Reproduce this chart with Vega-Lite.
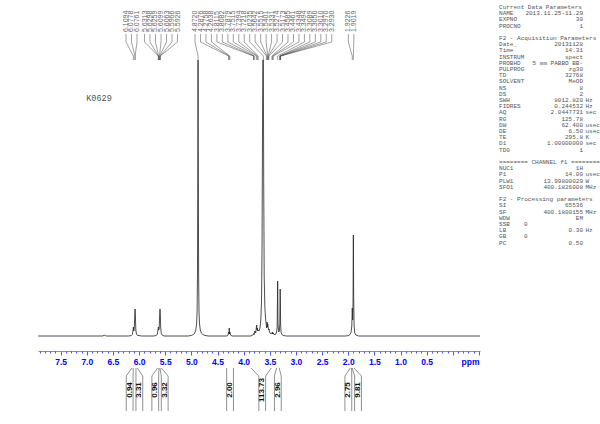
{
  "$schema": "https://vega.github.io/schema/vega-lite/v6.json",
  "width": 442,
  "height": 351,
  "autosize": {"type": "none"},
  "padding": {"left": 38, "top": 0, "right": 120, "bottom": 73},
  "background": "white",
  "config": {
    "view": {"stroke": null},
    "axisX": {"grid": false, "title": null, "labelOverlap": false, "labelBound": false, "labelFlush": false}
  },
  "datasets": {
    "spectrum": [
      {"ppm": 7.93, "intensity": 0}, {"ppm": 6.70, "intensity": 0}, {"ppm": 6.66, "intensity": 0.8}, {"ppm": 6.63, "intensity": 0},
      {"ppm": 6.20, "intensity": 0}, {"ppm": 6.15, "intensity": 0.4}, {"ppm": 6.13, "intensity": 1.5}, {"ppm": 6.12, "intensity": 4},
      {"ppm": 6.109, "intensity": 9}, {"ppm": 6.100, "intensity": 5}, {"ppm": 6.090, "intensity": 9}, {"ppm": 6.083, "intensity": 20},
      {"ppm": 6.077, "intensity": 27}, {"ppm": 6.071, "intensity": 20}, {"ppm": 6.062, "intensity": 6}, {"ppm": 6.05, "intensity": 2},
      {"ppm": 6.03, "intensity": 0.6}, {"ppm": 5.95, "intensity": 0},
      {"ppm": 5.72, "intensity": 0}, {"ppm": 5.67, "intensity": 0.6}, {"ppm": 5.65, "intensity": 2}, {"ppm": 5.638, "intensity": 6},
      {"ppm": 5.631, "intensity": 9}, {"ppm": 5.624, "intensity": 6}, {"ppm": 5.615, "intensity": 8}, {"ppm": 5.607, "intensity": 20},
      {"ppm": 5.600, "intensity": 27}, {"ppm": 5.594, "intensity": 22}, {"ppm": 5.586, "intensity": 8}, {"ppm": 5.575, "intensity": 2.5},
      {"ppm": 5.56, "intensity": 1}, {"ppm": 5.52, "intensity": 0},
      {"ppm": 5.06, "intensity": 0}, {"ppm": 5.0, "intensity": 0.6}, {"ppm": 4.96, "intensity": 1.5}, {"ppm": 4.935, "intensity": 3},
      {"ppm": 4.915, "intensity": 6}, {"ppm": 4.9, "intensity": 12}, {"ppm": 4.89, "intensity": 25}, {"ppm": 4.883, "intensity": 60},
      {"ppm": 4.877, "intensity": 160}, {"ppm": 4.872, "intensity": 276}, {"ppm": 4.867, "intensity": 160}, {"ppm": 4.861, "intensity": 60},
      {"ppm": 4.854, "intensity": 25}, {"ppm": 4.844, "intensity": 12}, {"ppm": 4.829, "intensity": 6}, {"ppm": 4.809, "intensity": 3},
      {"ppm": 4.78, "intensity": 1.5}, {"ppm": 4.74, "intensity": 0.6}, {"ppm": 4.68, "intensity": 0},
      {"ppm": 4.33, "intensity": 0}, {"ppm": 4.30, "intensity": 0.8}, {"ppm": 4.2876, "intensity": 4}, {"ppm": 4.281, "intensity": 2},
      {"ppm": 4.2758, "intensity": 8}, {"ppm": 4.269, "intensity": 2}, {"ppm": 4.2638, "intensity": 4}, {"ppm": 4.25, "intensity": 0.8},
      {"ppm": 4.22, "intensity": 0},
      {"ppm": 3.87, "intensity": 0}, {"ppm": 3.83, "intensity": 0.6}, {"ppm": 3.8115, "intensity": 2}, {"ppm": 3.810, "intensity": 1.8},
      {"ppm": 3.8082, "intensity": 2.5}, {"ppm": 3.798, "intensity": 1.5}, {"ppm": 3.7879, "intensity": 5}, {"ppm": 3.770, "intensity": 3},
      {"ppm": 3.7515, "intensity": 11}, {"ppm": 3.745, "intensity": 6}, {"ppm": 3.7394, "intensity": 8}, {"ppm": 3.731, "intensity": 5},
      {"ppm": 3.7218, "intensity": 6}, {"ppm": 3.705, "intensity": 5}, {"ppm": 3.688, "intensity": 8}, {"ppm": 3.672, "intensity": 16},
      {"ppm": 3.658, "intensity": 35}, {"ppm": 3.648, "intensity": 90}, {"ppm": 3.640, "intensity": 200}, {"ppm": 3.633, "intensity": 276},
      {"ppm": 3.6235, "intensity": 276}, {"ppm": 3.616, "intensity": 150}, {"ppm": 3.607, "intensity": 60}, {"ppm": 3.595, "intensity": 30},
      {"ppm": 3.582, "intensity": 18}, {"ppm": 3.5642, "intensity": 10}, {"ppm": 3.558, "intensity": 8}, {"ppm": 3.5515, "intensity": 14},
      {"ppm": 3.546, "intensity": 9}, {"ppm": 3.5401, "intensity": 12}, {"ppm": 3.5331, "intensity": 9}, {"ppm": 3.5274, "intensity": 8},
      {"ppm": 3.522, "intensity": 6}, {"ppm": 3.5173, "intensity": 7}, {"ppm": 3.505, "intensity": 4}, {"ppm": 3.49, "intensity": 2.5},
      {"ppm": 3.4585, "intensity": 3}, {"ppm": 3.452, "intensity": 2}, {"ppm": 3.4461, "intensity": 4}, {"ppm": 3.440, "intensity": 2},
      {"ppm": 3.4348, "intensity": 3}, {"ppm": 3.42, "intensity": 1.5}, {"ppm": 3.395, "intensity": 1.5}, {"ppm": 3.375, "intensity": 3},
      {"ppm": 3.36, "intensity": 8}, {"ppm": 3.3494, "intensity": 55}, {"ppm": 3.343, "intensity": 12}, {"ppm": 3.33, "intensity": 4},
      {"ppm": 3.318, "intensity": 5}, {"ppm": 3.3089, "intensity": 12}, {"ppm": 3.3050, "intensity": 32}, {"ppm": 3.3010, "intensity": 47},
      {"ppm": 3.2970, "intensity": 32}, {"ppm": 3.2930, "intensity": 12}, {"ppm": 3.285, "intensity": 4}, {"ppm": 3.27, "intensity": 1.5},
      {"ppm": 3.24, "intensity": 0.5}, {"ppm": 3.18, "intensity": 0},
      {"ppm": 2.05, "intensity": 0}, {"ppm": 1.99, "intensity": 0.5}, {"ppm": 1.965, "intensity": 1.5}, {"ppm": 1.945, "intensity": 4},
      {"ppm": 1.932, "intensity": 10}, {"ppm": 1.9226, "intensity": 28}, {"ppm": 1.915, "intensity": 16}, {"ppm": 1.908, "intensity": 35},
      {"ppm": 1.9019, "intensity": 101}, {"ppm": 1.896, "intensity": 40}, {"ppm": 1.888, "intensity": 10}, {"ppm": 1.875, "intensity": 3},
      {"ppm": 1.855, "intensity": 1}, {"ppm": 1.80, "intensity": 0}, {"ppm": -0.52, "intensity": 0}
    ],
    "peaks": [
      {"ppm": 6.1094, "lab": 6.250}, {"ppm": 6.0778, "lab": 6.145}, {"ppm": 6.0761, "lab": 6.039},
      {"ppm": 5.6313, "lab": 5.896}, {"ppm": 5.6298, "lab": 5.791}, {"ppm": 5.6259, "lab": 5.686},
      {"ppm": 5.6099, "lab": 5.580}, {"ppm": 5.6063, "lab": 5.475}, {"ppm": 5.5966, "lab": 5.370},
      {"ppm": 5.5926, "lab": 5.265},
      {"ppm": 4.8720, "lab": 4.930}, {"ppm": 4.2876, "lab": 4.825}, {"ppm": 4.2758, "lab": 4.721},
      {"ppm": 4.2638, "lab": 4.616}, {"ppm": 3.8115, "lab": 4.512}, {"ppm": 3.8082, "lab": 4.407},
      {"ppm": 3.7879, "lab": 4.302}, {"ppm": 3.7515, "lab": 4.198}, {"ppm": 3.7394, "lab": 4.093},
      {"ppm": 3.7218, "lab": 3.989}, {"ppm": 3.6235, "lab": 3.884}, {"ppm": 3.5642, "lab": 3.780},
      {"ppm": 3.5515, "lab": 3.675}, {"ppm": 3.5401, "lab": 3.570}, {"ppm": 3.5331, "lab": 3.466},
      {"ppm": 3.5274, "lab": 3.361}, {"ppm": 3.5173, "lab": 3.257}, {"ppm": 3.4585, "lab": 3.152},
      {"ppm": 3.4461, "lab": 3.047}, {"ppm": 3.4348, "lab": 2.943}, {"ppm": 3.3494, "lab": 2.838},
      {"ppm": 3.3089, "lab": 2.734}, {"ppm": 3.3050, "lab": 2.629}, {"ppm": 3.3010, "lab": 2.525},
      {"ppm": 3.2970, "lab": 2.420}, {"ppm": 3.2930, "lab": 2.315},
      {"ppm": 1.9226, "lab": 1.998}, {"ppm": 1.9019, "lab": 1.893}
    ],
    "integrals": [
      {"val": "0.94", "pos": 6.18, "hi": 6.135, "lo": 6.11},
      {"val": "3.31", "pos": 5.995, "hi": 6.06, "lo": 6.035},
      {"val": "0.96", "pos": 5.69, "hi": 5.645, "lo": 5.62},
      {"val": "3.32", "pos": 5.51, "hi": 5.60, "lo": 5.575},
      {"val": "2.00", "pos": 4.26, "hi": 4.325, "lo": 4.195},
      {"val": "113.73", "pos": 3.645, "hi": 3.86, "lo": 3.47},
      {"val": "2.96", "pos": 3.346, "hi": 3.37, "lo": 3.32},
      {"val": "2.75", "pos": 1.998, "hi": 1.96, "lo": 1.935},
      {"val": "9.81", "pos": 1.813, "hi": 1.925, "lo": 1.89}
    ],
    "params": [
      {"row": 0, "name": "Current Data Parameters", "mid": "", "value": "", "unit": ""},
      {"row": 1, "name": "NAME", "mid": "", "value": "2013.11.25-11.29", "unit": ""},
      {"row": 2, "name": "EXPNO", "mid": "", "value": "30", "unit": ""},
      {"row": 3, "name": "PROCNO", "mid": "", "value": "1", "unit": ""},
      {"row": 5, "name": "F2 - Acquisition Parameters", "mid": "", "value": "", "unit": ""},
      {"row": 6, "name": "Date_", "mid": "", "value": "20131128", "unit": ""},
      {"row": 7, "name": "Time", "mid": "", "value": "14.31", "unit": ""},
      {"row": 8, "name": "INSTRUM", "mid": "", "value": "spect", "unit": ""},
      {"row": 9, "name": "PROBHD", "mid": "", "value": "5 mm PABBO BB-", "unit": ""},
      {"row": 10, "name": "PULPROG", "mid": "", "value": "zg30", "unit": ""},
      {"row": 11, "name": "TD", "mid": "", "value": "32768", "unit": ""},
      {"row": 12, "name": "SOLVENT", "mid": "", "value": "MeOD", "unit": ""},
      {"row": 13, "name": "NS", "mid": "", "value": "8", "unit": ""},
      {"row": 14, "name": "DS", "mid": "", "value": "2", "unit": ""},
      {"row": 15, "name": "SWH", "mid": "", "value": "8012.820", "unit": "Hz"},
      {"row": 16, "name": "FIDRES", "mid": "", "value": "0.244532", "unit": "Hz"},
      {"row": 17, "name": "AQ", "mid": "", "value": "2.0447731", "unit": "sec"},
      {"row": 18, "name": "RG", "mid": "", "value": "125.78", "unit": ""},
      {"row": 19, "name": "DW", "mid": "", "value": "62.400", "unit": "usec"},
      {"row": 20, "name": "DE", "mid": "", "value": "6.50", "unit": "usec"},
      {"row": 21, "name": "TE", "mid": "", "value": "295.8", "unit": "K"},
      {"row": 22, "name": "D1", "mid": "", "value": "1.00000000", "unit": "sec"},
      {"row": 23, "name": "TD0", "mid": "", "value": "1", "unit": ""},
      {"row": 25, "name": "======== CHANNEL f1 ========", "mid": "", "value": "", "unit": ""},
      {"row": 26, "name": "NUC1", "mid": "", "value": "1H", "unit": ""},
      {"row": 27, "name": "P1", "mid": "", "value": "14.00", "unit": "usec"},
      {"row": 28, "name": "PLW1", "mid": "", "value": "13.99800029", "unit": "W"},
      {"row": 29, "name": "SFO1", "mid": "", "value": "400.1826008", "unit": "MHz"},
      {"row": 31, "name": "F2 - Processing parameters", "mid": "", "value": "", "unit": ""},
      {"row": 32, "name": "SI", "mid": "", "value": "65536", "unit": ""},
      {"row": 33, "name": "SF", "mid": "", "value": "400.1800155", "unit": "MHz"},
      {"row": 34, "name": "WDW", "mid": "", "value": "EM", "unit": ""},
      {"row": 35, "name": "SSB", "mid": "0", "value": "", "unit": ""},
      {"row": 36, "name": "LB", "mid": "", "value": "0.30", "unit": "Hz"},
      {"row": 37, "name": "GB", "mid": "0", "value": "", "unit": ""},
      {"row": 38, "name": "PC", "mid": "", "value": "0.50", "unit": ""}
    ],
    "sample": [{"label": "K0629"}]
  },
  "layer": [
    {
      "layer": [
        {
          "data": {"name": "spectrum"},
          "mark": {"type": "line", "stroke": "#222222", "strokeWidth": 0.8, "interpolate": "linear"},
          "encoding": {
            "x": {
              "field": "ppm", "type": "quantitative", "title": null,
              "scale": {"domain": [-0.52, 7.933], "reverse": true, "nice": false, "zero": false},
              "axis": {
                "orient": "bottom",
                "title": null,
                "grid": false,
                "values": [7.5, 7.0, 6.5, 6.0, 5.5, 5.0, 4.5, 4.0, 3.5, 3.0, 2.5, 2.0, 1.5, 1.0, 0.5, 0, -0.5],
                "labelExpr": "datum.value < -0.45 ? 'ppm' : (datum.value < 0.25 ? '' : format(datum.value, '.1f'))",
                "labelOverlap": false,
                "labelBound": false,
                "labelFlush": false,
                "labelAlign": {"condition": {"test": "datum.value < -0.45", "value": "right"}, "value": "center"},
                "tickSize": 4,
                "tickColor": "#2a2aff",
                "tickWidth": 0.8,
                "domainColor": "#6a6ad0",
                "domainWidth": 0.8,
                "labelColor": "#0000ff",
                "labelFont": "Liberation Sans",
                "labelFontWeight": "bold",
                "labelFontSize": 8.5,
                "labelPadding": 2
              }
            },
            "y": {
              "field": "intensity", "type": "quantitative",
              "scale": {"domain": [-15, 336], "nice": false, "zero": false},
              "axis": null
            }
          }
        },
        {
          "data": {"name": "peaks"},
          "mark": {"type": "text", "angle": 270, "align": "left", "baseline": "middle", "font": "Liberation Sans", "fontSize": 7, "fill": "#666666"},
          "encoding": {
            "x": {
              "field": "lab", "type": "quantitative", "title": null,
              "axis": {
                "orient": "bottom",
                "title": null,
                "grid": false,
                "values": [7.9,7.8,7.7,7.6,7.4,7.3,7.2,7.1,6.9,6.8,6.7,6.6,6.4,6.3,6.2,6.1,5.9,5.8,5.7,5.6,5.4,5.3,5.2,5.1,4.9,4.8,4.7,4.6,4.4,4.3,4.2,4.1,3.9,3.8,3.7,3.6,3.4,3.3,3.2,3.1,2.9,2.8,2.7,2.6,2.4,2.3,2.2,2.1,1.9,1.8,1.7,1.6,1.4,1.3,1.2,1.1,0.9,0.8,0.7,0.6,0.4,0.3,0.2,0.1,-0.1,-0.2,-0.3,-0.4],
                "labels": false,
                "domain": false,
                "tickSize": 2,
                "tickColor": "#2a2aff",
                "tickWidth": 0.8
              }
            },
            "y": {"datum": 304, "type": "quantitative"},
            "text": {"field": "ppm", "type": "quantitative", "format": ".4f"}
          }
        },
        {
          "data": {"name": "peaks"},
          "mark": {"type": "rule", "stroke": "#444444", "strokeWidth": 0.5},
          "encoding": {
            "x": {"field": "lab", "type": "quantitative", "title": null, "axis": null},
            "y": {"datum": 302, "type": "quantitative"},
            "y2": {"datum": 294}
          }
        },
        {
          "data": {"name": "peaks"},
          "mark": {"type": "rule", "stroke": "#444444", "strokeWidth": 0.5},
          "encoding": {
            "x": {"field": "lab", "type": "quantitative", "title": null, "axis": null},
            "x2": {"field": "ppm"},
            "y": {"datum": 294, "type": "quantitative"},
            "y2": {"datum": 280}
          }
        },
        {
          "data": {"name": "peaks"},
          "mark": {"type": "rule", "stroke": "#444444", "strokeWidth": 0.5},
          "encoding": {
            "x": {"field": "ppm", "type": "quantitative", "title": null, "axis": null},
            "y": {"datum": 280, "type": "quantitative"},
            "y2": {"datum": 276}
          }
        },
        {
          "data": {"name": "integrals"},
          "transform": [
            {"calculate": "datum.pos + 0.065", "as": "bl"},
            {"calculate": "datum.pos - 0.065", "as": "br"}
          ],
          "layer": [
            {
              "mark": {"type": "rule", "stroke": "#444444", "strokeWidth": 0.6},
              "encoding": {
                "x": {"field": "hi", "type": "quantitative", "title": null, "axis": null},
                "x2": {"field": "bl"},
                "y": {"datum": -32, "type": "quantitative"},
                "y2": {"datum": -40}
              }
            },
            {
              "mark": {"type": "rule", "stroke": "#444444", "strokeWidth": 0.6},
              "encoding": {
                "x": {"field": "lo", "type": "quantitative", "title": null, "axis": null},
                "x2": {"field": "br"},
                "y": {"datum": -32, "type": "quantitative"},
                "y2": {"datum": -40}
              }
            },
            {
              "mark": {"type": "rule", "stroke": "#444444", "strokeWidth": 0.6},
              "encoding": {
                "x": {"field": "bl", "type": "quantitative", "title": null, "axis": null},
                "y": {"datum": -40, "type": "quantitative"},
                "y2": {"datum": -75}
              }
            },
            {
              "mark": {"type": "rule", "stroke": "#444444", "strokeWidth": 0.6},
              "encoding": {
                "x": {"field": "br", "type": "quantitative", "title": null, "axis": null},
                "y": {"datum": -40, "type": "quantitative"},
                "y2": {"datum": -75}
              }
            },
            {
              "mark": {"type": "text", "angle": 270, "align": "center", "baseline": "middle", "font": "Liberation Sans", "fontSize": 8, "fontWeight": "bold", "fill": "#111111"},
              "encoding": {
                "x": {"field": "pos", "type": "quantitative", "title": null, "axis": null},
                "y": {"datum": -54, "type": "quantitative"},
                "text": {"field": "val", "type": "nominal"}
              }
            }
          ]
        },
        {
          "data": {"name": "sample"},
          "mark": {"type": "text", "align": "center", "baseline": "middle", "font": "Liberation Mono", "fontSize": 8.5, "fill": "#555555"},
          "encoding": {
            "x": {"datum": 6.766, "type": "quantitative", "title": null, "axis": null},
            "y": {"datum": 238, "type": "quantitative"},
            "text": {"field": "label", "type": "nominal"}
          }
        }
      ],
      "resolve": {"axis": {"x": "independent"}}
    },
    {
      "data": {"name": "params"},
      "encoding": {
        "y": {
          "field": "row", "type": "quantitative",
          "scale": {"domain": [-1.13, 55.48], "reverse": true, "nice": false, "zero": false},
          "axis": null
        }
      },
      "layer": [
        {
          "mark": {"type": "text", "align": "left", "baseline": "middle", "font": "Liberation Mono", "fontSize": 6, "fill": "#555555"},
          "encoding": {
            "x": {"datum": -0.884, "type": "quantitative", "title": null, "axis": null},
            "text": {"field": "name", "type": "nominal"}
          }
        },
        {
          "mark": {"type": "text", "align": "left", "baseline": "middle", "font": "Liberation Mono", "fontSize": 6, "fill": "#555555"},
          "encoding": {
            "x": {"datum": -1.362, "type": "quantitative", "title": null, "axis": null},
            "text": {"field": "mid", "type": "nominal"}
          }
        },
        {
          "mark": {"type": "text", "align": "right", "baseline": "middle", "font": "Liberation Mono", "fontSize": 6, "fill": "#555555"},
          "encoding": {
            "x": {"datum": -2.49, "type": "quantitative", "title": null, "axis": null},
            "text": {"field": "value", "type": "nominal"}
          }
        },
        {
          "mark": {"type": "text", "align": "left", "baseline": "middle", "font": "Liberation Mono", "fontSize": 6, "fill": "#555555"},
          "encoding": {
            "x": {"datum": -2.538, "type": "quantitative", "title": null, "axis": null},
            "text": {"field": "unit", "type": "nominal"}
          }
        }
      ]
    }
  ],
  "resolve": {"scale": {"y": "independent"}}
}
